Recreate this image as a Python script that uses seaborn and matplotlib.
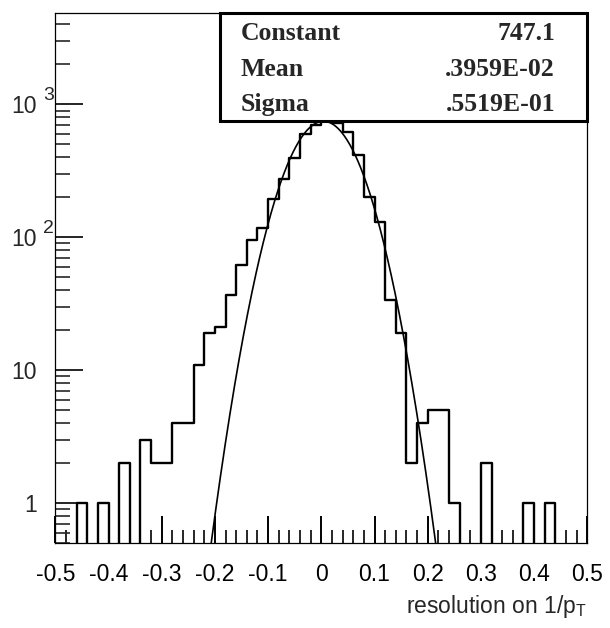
import numpy as np
import pandas as pd
import matplotlib
matplotlib.use('Agg')
import matplotlib.pyplot as plt
import matplotlib.ticker as mticker
from matplotlib.patches import Rectangle
from matplotlib.transforms import offset_copy
import seaborn as sns

# histogram binning: 50 bins between -0.5 and 0.5
bin_lo = -0.5
bin_hi = 0.5
n_bins = 50

# entries per bin
counts = [0, 0, 1, 0, 1, 0, 2, 0, 3, 2,
          2, 4, 4, 11, 19, 21, 37, 62, 96, 117,
          194, 275, 395, 599, 703, 777, 720, 616, 419, 200,
          130, 34, 19, 2, 4, 5, 5, 1, 0, 0,
          2, 0, 0, 0, 1, 0, 1, 0, 0, 0]

# gaussian fit parameters (from the stats box)
fit_constant = 747.1
fit_mean = 0.3959E-02
fit_sigma = 0.5519E-01

stat_names = ['Constant', 'Mean', 'Sigma']
stat_values = ['747.1', '.3959E-02', '.5519E-01']

xtick_values = [-0.5, -0.4, -0.3, -0.2, -0.1, 0.0, 0.1, 0.2, 0.3, 0.4, 0.5]
xtick_labels = ['-0.5', '-0.4', '-0.3', '-0.2', '-0.1', '0',
                '0.1', '0.2', '0.3', '0.4', '0.5']
ytick_values = [1, 10, 100, 1000]
ytick_base = ['1', '10', '10', '10']
ytick_exp = ['', '', '2', '3']

sns.set_style('white')
plt.rcParams['font.family'] = ['Liberation Sans', 'DejaVu Sans']
plt.rcParams['mathtext.default'] = 'regular'

fig = plt.figure(figsize=(6.1, 6.28), dpi=100)
ax = fig.add_axes([0.0907, 0.1349, 0.8721, 0.8449])

edges = np.linspace(bin_lo, bin_hi, n_bins + 1)
centers = 0.5 * (edges[:-1] + edges[1:])
df = pd.DataFrame({'x': centers, 'n': counts})

# seaborn compares bins to "auto", so hand it a plain list
sns.histplot(data=df, x='x', weights='n', bins=edges.tolist(), element='step',
             fill=False, color='black', linewidth=1.7, ax=ax)

# fitted gaussian
xs = np.linspace(bin_lo, bin_hi, 1000)
ys = fit_constant * np.exp(-0.5 * ((xs - fit_mean) / fit_sigma) ** 2)
sns.lineplot(x=xs, y=ys, color='black', linewidth=1.2, estimator=None,
             sort=False, ax=ax)

ax.set_yscale('log')
ax.set_xlim(bin_lo, bin_hi)
ax.set_ylim(0.5, 4900)
ax.set_xlabel('')
ax.set_ylabel('')

for side in ['left', 'right', 'top', 'bottom']:
    ax.spines[side].set_visible(True)
    ax.spines[side].set_color('black')
    ax.spines[side].set_linewidth(0.9)

# ROOT style ticks: inside, bottom and left only
ax.xaxis.set_major_locator(mticker.FixedLocator(xtick_values))
ax.xaxis.set_minor_locator(mticker.MultipleLocator(0.02))
ax.set_xticklabels(xtick_labels)
ax.tick_params(axis='x', which='major', direction='in', length=19.5, width=1.4,
               bottom=True, top=False, pad=14, labelsize=16.5, colors='black')
ax.tick_params(axis='x', which='minor', direction='in', length=9.7, width=1.4,
               bottom=True, top=False)

ax.yaxis.set_major_locator(mticker.FixedLocator(ytick_values))
ax.yaxis.set_minor_locator(mticker.LogLocator(base=10, subs=np.arange(2, 10), numticks=20))
ax.yaxis.set_minor_formatter(mticker.NullFormatter())
ax.tick_params(axis='y', which='major', direction='in', length=20, width=1.2,
               left=True, right=False, labelleft=False, colors='black')
ax.tick_params(axis='y', which='minor', direction='in', length=10.5, width=1.2,
               left=True, right=False, labelleft=False)

# y labels written as 10 with a raised exponent
ytrans = ax.get_yaxis_transform()
base_trans = offset_copy(ytrans, fig=fig, x=0, y=-2, units='dots')
exp_trans = offset_copy(ytrans, fig=fig, x=0, y=9, units='dots')
for v, b, e in zip(ytick_values, ytick_base, ytick_exp):
    ax.text(-0.0344, v, b, transform=base_trans, ha='right', va='center',
            fontsize=16.5)
    if e:
        ax.text(-0.0231, v, e, transform=exp_trans, ha='left', va='center',
                fontsize=14)

# stats box
ax.add_patch(Rectangle((0.3096, 0.795), 1 - 0.3096, 0.205, transform=ax.transAxes,
                       facecolor='white', edgecolor='black', linewidth=2.2,
                       zorder=5, clip_on=False))
row_y = [0.9486, 0.8808, 0.8148]
for name, val, yy in zip(stat_names, stat_values, row_y):
    ax.text(0.349, yy, name, transform=ax.transAxes, ha='left', va='baseline',
            family='Liberation Serif', fontweight='bold', fontsize=18.5, zorder=6)
    ax.text(0.9393, yy, val, transform=ax.transAxes, ha='right', va='baseline',
            family='Liberation Serif', fontweight='bold', fontsize=18.5, zorder=6)

fig.text(587 / 610, 1 - 613 / 628, 'resolution on 1/p$_{T}$', ha='right',
         va='baseline', fontsize=16.5)

fig.savefig('out.png', dpi=100)
